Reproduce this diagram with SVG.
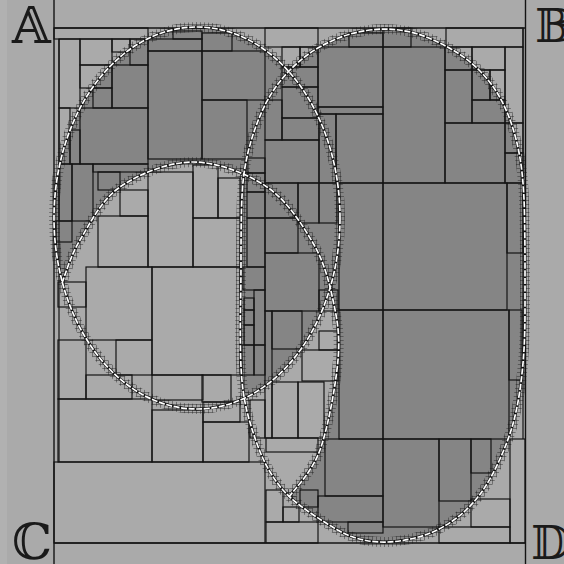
<svg xmlns="http://www.w3.org/2000/svg" width="564" height="564" viewBox="0 0 564 564">
<defs>
<style>
.c{fill:none;stroke:#141414;stroke-width:1.2}
.fr{stroke:#141414;stroke-width:1.4;fill:none}
.band{fill:none;stroke:url(#g);stroke-width:10}
.under{fill:none;stroke:#111;stroke-width:2.8}
.wh{fill:none;stroke:#fff;stroke-width:1.7;stroke-dasharray:6 1.6}
.lab{font-family:"DejaVu Serif","DejaVu Sans",serif;font-size:50px;fill:#1a1a1a}
.labr{font-family:"DejaVu Serif","DejaVu Sans",serif;font-size:46px;fill:#1a1a1a}
</style>
<pattern id="g" width="4" height="4" patternUnits="userSpaceOnUse"><path d="M0 0H4M0 0V4" stroke="#1a1a1a" stroke-width="0.85" fill="none"/></pattern>
<path id="e2" d="M366.5,30.5 Q383,28 399,30 Q415,32 430,38.5 Q445,45 457,52.5 Q469,60 479,70 Q489,80 496,91 Q503,102 508,114.5 Q513,127 516.5,141 Q520,155 522,172.5 Q524,190 524.5,215 Q525,240 525,265 Q525,290 525,311 Q525,332 524,349.5 Q523,367 520.5,386 Q518,405 513.5,422 Q509,439 499.5,460 Q490,481 479.5,495 Q469,509 454.5,519.5 Q440,530 425,535 Q410,540 395,541.5 Q380,543 366,540.5 Q352,538 339.5,531 Q327,524 316.5,517 Q306,510 297.5,503.5 Q289,497 282.5,489.5 Q276,482 269.5,471 Q263,460 258,446.5 Q253,433 249,419 Q245,405 243,390 Q241,375 240.5,352.5 Q240,330 240.5,307.5 Q241,285 241,257.5 Q241,230 241.5,210 Q242,190 243.5,177.5 Q245,165 248,152.5 Q251,140 255.5,127.5 Q260,115 265,105 Q270,95 276.5,86 Q283,77 291.5,68.5 Q300,60 310,53 Q320,46 335,39.5 Q350,33 366.5,30.5 Z"/>
<path id="c3" d="M62,283 C65,275.8 70.3,256 80,240 C89.7,224 101.2,200 120,187 C138.8,174 168.5,162 193,162 C217.5,162 247,173.5 267,187 C287,200.5 302,224.2 313,243 C324,261.8 328.8,280.5 333,300 C337.2,319.5 340.2,335 338,360 C335.8,385 328.2,427.2 320,450 C311.8,472.8 294.2,489.2 289,497"/>
<clipPath id="ce2"><use href="#e2"/></clipPath>
</defs>

<rect width="564" height="564" fill="#aaaaaa"/>
<rect x="0" y="0" width="7" height="564" fill="#b1b1b1"/>

<g id="regions">
<ellipse cx="197" cy="218" rx="143" ry="191" fill="#858585"/>
<use href="#e2" fill="#858585"/>
<path d="M62,283 C65,275.8 70.3,256 80,240 C89.7,224 101.2,200 120,187 C138.8,174 168.5,162 193,162 C217.5,162 247,173.5 267,187 C287,200.5 302,224.2 313,243 C324,261.8 328.8,280.5 333,300 C337.2,319.5 340.2,335 338,360 C335.8,385 328.2,427.2 320,450 C311.8,472.8 294.2,489.2 289,497 L62,497 Z" fill="#aaaaaa"/>
<ellipse cx="197" cy="218" rx="143" ry="191" fill="#858585" clip-path="url(#ce2)"/>
</g>

<g id="fine">
<ellipse class="band" cx="197" cy="218" rx="143" ry="191"/>
<use href="#e2" class="band"/>
<use href="#c3" class="band"/>
</g>

<g id="cells">
<rect class="c" x="54" y="28" width="94" height="11"/>
<rect class="c" x="173" y="31" width="29" height="8"/>
<rect class="c" x="202" y="33" width="30" height="18"/>
<rect class="c" x="265" y="28" width="53" height="19"/>
<rect class="c" x="349" y="33" width="34" height="14"/>
<rect class="c" x="383" y="28" width="28" height="19"/>
<rect class="c" x="446" y="28" width="77" height="19"/>
<rect class="c" x="59" y="39" width="21" height="69"/>
<rect class="c" x="80" y="39" width="32" height="26"/>
<rect class="c" x="112" y="39" width="18" height="13"/>
<rect class="c" x="130" y="39" width="18" height="26"/>
<rect class="c" x="80" y="65" width="32" height="23"/>
<rect class="c" x="148" y="39" width="54" height="12"/>
<rect class="c" x="148" y="51" width="54" height="108"/>
<rect class="c" x="202" y="51" width="63" height="49"/>
<rect class="c" x="202" y="100" width="45" height="59"/>
<rect class="c" x="112" y="65" width="36" height="43"/>
<rect class="c" x="93" y="88" width="19" height="20"/>
<rect class="c" x="80" y="108" width="68" height="56"/>
<rect class="c" x="59" y="108" width="11" height="56"/>
<rect class="c" x="70" y="130" width="10" height="34"/>
<rect class="c" x="59" y="164" width="13" height="57"/>
<rect class="c" x="72" y="164" width="21" height="57"/>
<rect class="c" x="56" y="221" width="16" height="21"/>
<rect class="c" x="93" y="164" width="55" height="8"/>
<rect class="c" x="98" y="172" width="22" height="18"/>
<rect class="c" x="120" y="190" width="28" height="26"/>
<rect class="c" x="98" y="216" width="50" height="51"/>
<rect class="c" x="148" y="172" width="45" height="95"/>
<rect class="c" x="193" y="165" width="25" height="53"/>
<rect class="c" x="218" y="178" width="22" height="40"/>
<rect class="c" x="193" y="218" width="47" height="49"/>
<rect class="c" x="86" y="267" width="66" height="73"/>
<rect class="c" x="152" y="267" width="88" height="108"/>
<rect class="c" x="58" y="282" width="28" height="25"/>
<rect class="c" x="58" y="340" width="28" height="59"/>
<rect class="c" x="116" y="340" width="36" height="35"/>
<rect class="c" x="86" y="375" width="46" height="24"/>
<rect class="c" x="58" y="399" width="94" height="63"/>
<rect class="c" x="152" y="375" width="51" height="25"/>
<rect class="c" x="152" y="410" width="51" height="52"/>
<rect class="c" x="203" y="422" width="46" height="40"/>
<rect class="c" x="202" y="375" width="29" height="27"/>
<rect class="c" x="203" y="402" width="37" height="20"/>
<rect class="c" x="54" y="462" width="211" height="81"/>
<rect class="c" x="247" y="158" width="18" height="15"/>
<rect class="c" x="247" y="173" width="18" height="19"/>
<rect class="c" x="247" y="192" width="18" height="26"/>
<rect class="c" x="247" y="218" width="18" height="49"/>
<rect class="c" x="243" y="267" width="22" height="23"/>
<rect class="c" x="244" y="298" width="10" height="12"/>
<rect class="c" x="244" y="310" width="10" height="15"/>
<rect class="c" x="244" y="325" width="10" height="20"/>
<rect class="c" x="242" y="345" width="12" height="30"/>
<rect class="c" x="254" y="345" width="11" height="30"/>
<rect class="c" x="254" y="290" width="11" height="55"/>
<rect class="c" x="265" y="100" width="17" height="40"/>
<rect class="c" x="282" y="47" width="18" height="20"/>
<rect class="c" x="300" y="47" width="18" height="20"/>
<rect class="c" x="282" y="67" width="36" height="20"/>
<rect class="c" x="282" y="87" width="36" height="31"/>
<rect class="c" x="282" y="118" width="37" height="22"/>
<rect class="c" x="265" y="140" width="54" height="43"/>
<rect class="c" x="319" y="114" width="17" height="69"/>
<rect class="c" x="336" y="114" width="47" height="69"/>
<rect class="c" x="318" y="47" width="65" height="60"/>
<rect class="c" x="318" y="107" width="65" height="7"/>
<rect class="c" x="383" y="47" width="62" height="136"/>
<rect class="c" x="445" y="47" width="27" height="23"/>
<rect class="c" x="445" y="70" width="27" height="53"/>
<rect class="c" x="472" y="70" width="18" height="30"/>
<rect class="c" x="472" y="100" width="33" height="23"/>
<rect class="c" x="445" y="123" width="60" height="60"/>
<rect class="c" x="472" y="47" width="33" height="23"/>
<rect class="c" x="505" y="47" width="18" height="76"/>
<rect class="c" x="505" y="123" width="18" height="30"/>
<rect class="c" x="505" y="153" width="18" height="30"/>
<rect class="c" x="490" y="70" width="15" height="30"/>
<rect class="c" x="339" y="183" width="44" height="127"/>
<rect class="c" x="383" y="183" width="124" height="127"/>
<rect class="c" x="507" y="183" width="16" height="70"/>
<rect class="c" x="339" y="310" width="44" height="129"/>
<rect class="c" x="383" y="310" width="126" height="129"/>
<rect class="c" x="509" y="310" width="13" height="70"/>
<rect class="c" x="325" y="439" width="58" height="57"/>
<rect class="c" x="383" y="439" width="56" height="88"/>
<rect class="c" x="439" y="439" width="32" height="62"/>
<rect class="c" x="471" y="439" width="20" height="34"/>
<rect class="c" x="510" y="439" width="15" height="104"/>
<rect class="c" x="471" y="499" width="39" height="28"/>
<rect class="c" x="439" y="527" width="71" height="16"/>
<rect class="c" x="318" y="496" width="65" height="26"/>
<rect class="c" x="348" y="522" width="35" height="11"/>
<rect class="c" x="266" y="522" width="52" height="21"/>
<rect class="c" x="266" y="490" width="17" height="32"/>
<rect class="c" x="283" y="507" width="16" height="15"/>
<rect class="c" x="300" y="490" width="18" height="17"/>
<rect class="c" x="266" y="438" width="52" height="14"/>
<rect class="c" x="272" y="382" width="26" height="56"/>
<rect class="c" x="298" y="382" width="26" height="56"/>
<rect class="c" x="302" y="350" width="36" height="31"/>
<rect class="c" x="319" y="331" width="19" height="19"/>
<rect class="c" x="272" y="311" width="30" height="38"/>
<rect class="c" x="265" y="253" width="54" height="58"/>
<rect class="c" x="319" y="290" width="19" height="21"/>
<rect class="c" x="265" y="311" width="7" height="127"/>
<rect class="c" x="298" y="183" width="21" height="40"/>
<rect class="c" x="265" y="218" width="33" height="35"/>
<rect class="c" x="319" y="183" width="18" height="40"/>
<rect class="c" x="265" y="183" width="33" height="35"/>
<rect class="c" x="250" y="400" width="15" height="38"/>
</g>

<g id="frame">
<line class="fr" x1="54" y1="0" x2="54" y2="564"/>
<line class="fr" x1="525.5" y1="0" x2="525.5" y2="564"/>
<line class="fr" x1="54" y1="28" x2="525.5" y2="28"/>
<line class="fr" x1="54" y1="543" x2="525.5" y2="543"/>
<line class="c" x1="59" y1="39" x2="59" y2="462"/>
<line class="c" x1="523" y1="28" x2="523" y2="439"/>
</g>

<g id="curves">
<ellipse class="under" cx="197" cy="218" rx="143" ry="191"/>
<use href="#e2" class="under"/>
<use href="#c3" class="under"/>
<ellipse class="wh" cx="197" cy="218" rx="143" ry="191"/>
<use href="#e2" class="wh"/>
<use href="#c3" class="wh"/>
</g>

<g id="labels">
<text class="lab" x="12" y="43">&#x1D538;</text>
<text class="labr" x="535" y="42">&#x1D539;</text>
<text class="lab" x="12" y="559">&#x2102;</text>
<text class="labr" x="531" y="559">&#x1D53B;</text>
</g>
</svg>
